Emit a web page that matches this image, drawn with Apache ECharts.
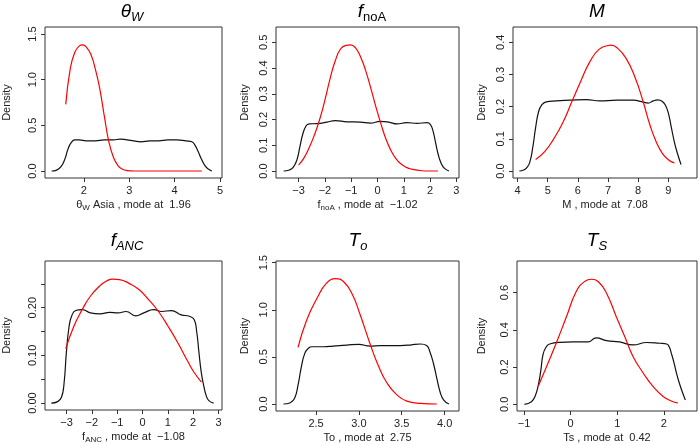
<!DOCTYPE html>
<html>
<head>
<meta charset="utf-8">
<script src="https://cdn.jsdelivr.net/npm/echarts@6/dist/echarts.min.js"></script>
<style>
  html, body { margin: 0; background: #fff; }
  #main { width: 700px; height: 445px; }
</style>
</head>
<body>
<div id="main"></div>
<script>
// theta_W
const thetaPriorX = [1.29, 1.40, 1.50, 1.58, 1.65, 1.72, 1.80, 1.90, 2.05, 2.25, 2.45, 2.65, 2.80, 2.95, 3.10, 3.25, 3.45, 3.65, 3.85, 4.05, 4.25, 4.38, 4.45, 4.52, 4.60, 4.68, 4.75, 4.82];
const thetaPriorY = [0.00, 0.01, 0.05, 0.13, 0.24, 0.31, 0.34, 0.34, 0.33, 0.33, 0.34, 0.34, 0.35, 0.34, 0.33, 0.32, 0.33, 0.33, 0.34, 0.34, 0.33, 0.32, 0.28, 0.21, 0.12, 0.05, 0.02, 0.00];
const thetaPostX = [1.60, 1.70, 1.80, 1.90, 1.97, 2.05, 2.15, 2.25, 2.35, 2.45, 2.55, 2.65, 2.75, 2.85, 2.95, 3.10, 3.50, 4.00, 4.60];
const thetaPostY = [0.73, 1.12, 1.30, 1.37, 1.38, 1.36, 1.28, 1.12, 0.90, 0.60, 0.32, 0.15, 0.06, 0.02, 0.005, 0.0, 0.0, 0.0, 0.0];

// f_noA
const fnoaPriorX = [-3.57, -3.35, -3.20, -3.06, -2.95, -2.85, -2.72, -2.60, -2.30, -1.92, -1.60, -1.16, -0.65, -0.27, 0.11, 0.43, 0.74, 1.12, 1.50, 1.89, 2.00, 2.10, 2.20, 2.30, 2.42, 2.55, 2.72];
const fnoaPriorY = [0.000, 0.004, 0.015, 0.045, 0.095, 0.140, 0.175, 0.183, 0.184, 0.190, 0.196, 0.191, 0.190, 0.186, 0.193, 0.190, 0.183, 0.188, 0.185, 0.188, 0.182, 0.160, 0.115, 0.068, 0.030, 0.010, 0.000];
const fnoaPostX = [-3.00, -2.80, -2.60, -2.40, -2.20, -2.00, -1.80, -1.60, -1.40, -1.20, -1.02, -0.85, -0.65, -0.45, -0.25, -0.05, 0.11, 0.30, 0.50, 0.70, 0.90, 1.10, 1.30, 1.60, 2.00, 2.30];
const fnoaPostY = [0.023, 0.050, 0.090, 0.140, 0.200, 0.275, 0.360, 0.430, 0.475, 0.488, 0.490, 0.480, 0.445, 0.390, 0.320, 0.245, 0.190, 0.130, 0.082, 0.048, 0.027, 0.014, 0.007, 0.002, 0.000, 0.000];

// M
const mPriorX = [4.06, 4.20, 4.30, 4.40, 4.50, 4.60, 4.70, 4.80, 4.95, 5.28, 5.72, 6.28, 6.72, 7.28, 7.83, 8.17, 8.33, 8.50, 8.65, 8.80, 8.90, 9.00, 9.10, 9.20, 9.30, 9.42];
const mPriorY = [0.000, 0.003, 0.010, 0.025, 0.070, 0.135, 0.185, 0.205, 0.215, 0.218, 0.220, 0.222, 0.218, 0.220, 0.220, 0.214, 0.211, 0.218, 0.221, 0.216, 0.205, 0.180, 0.135, 0.090, 0.055, 0.020];
const mPostX = [4.60, 4.90, 5.20, 5.50, 5.80, 6.10, 6.40, 6.70, 7.00, 7.10, 7.30, 7.60, 7.90, 8.15, 8.40, 8.60, 8.80, 9.00, 9.20];
const mPostY = [0.036, 0.060, 0.100, 0.150, 0.215, 0.280, 0.340, 0.378, 0.390, 0.391, 0.383, 0.350, 0.290, 0.220, 0.140, 0.090, 0.055, 0.035, 0.025];

// f_ANC
const fancPriorX = [-3.60, -3.35, -3.20, -3.10, -3.00, -2.90, -2.80, -2.64, -2.38, -2.06, -1.68, -1.29, -0.97, -0.65, -0.27, 0.05, 0.44, 0.76, 1.14, 1.53, 1.85, 2.04, 2.14, 2.23, 2.32, 2.42, 2.52, 2.62, 2.81];
const fancPriorY = [0.000, 0.003, 0.012, 0.040, 0.110, 0.160, 0.182, 0.194, 0.196, 0.189, 0.187, 0.190, 0.189, 0.192, 0.183, 0.189, 0.196, 0.192, 0.194, 0.185, 0.182, 0.175, 0.150, 0.106, 0.065, 0.036, 0.015, 0.005, 0.000];
const fancPostX = [-3.03, -2.71, -2.38, -2.06, -1.68, -1.42, -1.17, -0.91, -0.53, -0.14, 0.24, 0.63, 1.01, 1.40, 1.78, 2.04, 2.33];
const fancPostY = [0.114, 0.161, 0.196, 0.224, 0.246, 0.256, 0.260, 0.259, 0.251, 0.238, 0.217, 0.192, 0.161, 0.126, 0.088, 0.064, 0.044];

// T_o
const toPriorX = [2.12, 2.20, 2.25, 2.29, 2.33, 2.37, 2.41, 2.45, 2.59, 2.70, 2.86, 3.00, 3.13, 3.25, 3.36, 3.48, 3.60, 3.72, 3.79, 3.83, 3.87, 3.91, 3.95, 3.99, 4.05];
const toPriorY = [0.00, 0.014, 0.06, 0.20, 0.40, 0.54, 0.59, 0.608, 0.608, 0.615, 0.626, 0.633, 0.615, 0.62, 0.619, 0.62, 0.626, 0.637, 0.62, 0.55, 0.43, 0.27, 0.12, 0.042, 0.0];
const toPostX = [2.29, 2.39, 2.51, 2.62, 2.73, 2.82, 2.92, 3.01, 3.13, 3.23, 3.33, 3.44, 3.56, 3.72, 3.91];
const toPostY = [0.60, 0.89, 1.12, 1.28, 1.33, 1.30, 1.17, 0.96, 0.64, 0.40, 0.22, 0.10, 0.03, 0.007, 0.0];

// T_s
const tsPriorX = [-0.99, -0.84, -0.76, -0.70, -0.64, -0.59, -0.52, -0.45, -0.23, 0.05, 0.37, 0.55, 0.77, 1.05, 1.34, 1.63, 1.91, 2.06, 2.12, 2.16, 2.22, 2.27, 2.33, 2.38, 2.46];
const tsPriorY = [0.000, 0.014, 0.045, 0.095, 0.180, 0.270, 0.310, 0.324, 0.333, 0.335, 0.335, 0.357, 0.342, 0.335, 0.319, 0.332, 0.328, 0.324, 0.305, 0.274, 0.220, 0.167, 0.115, 0.077, 0.023];
const tsPostX = [-0.69, -0.52, -0.31, -0.09, 0.12, 0.30, 0.45, 0.59, 0.77, 0.98, 1.16, 1.34, 1.56, 1.77, 1.99, 2.20, 2.30];
const tsPostY = [0.10, 0.20, 0.328, 0.47, 0.606, 0.66, 0.672, 0.66, 0.597, 0.47, 0.364, 0.256, 0.167, 0.095, 0.041, 0.014, 0.008];

// tick values
const thetaXTicks = [2, 3, 4, 5];
const thetaYTicks = [0, 0.5, 1, 1.5];
const fnoaXTicks = [-3, -2, -1, 0, 1, 2, 3];
const fnoaYTicks = [0, 0.1, 0.2, 0.3, 0.4, 0.5];
const mXTicks = [4, 5, 6, 7, 8, 9];
const mYTicks = [0, 0.1, 0.2, 0.3, 0.4];
const fancXTicks = [-3, -2, -1, 0, 1, 2, 3];
const fancYTicks = [0, 0.05, 0.1, 0.15, 0.2, 0.25];
const fancYLabels = [0, 0.1, 0.2];
const toXTicks = [2.5, 3.0, 3.5, 4.0];
const toYTicks = [0, 0.5, 1, 1.5];
const tsXTicks = [-1, 0, 1, 2];
const tsYTicks = [0, 0.2, 0.4, 0.6];

const FONT = "'Liberation Sans', Arial, sans-serif";
const zip = (xs, ys) => xs.map((x, i) => [x, ys[i]]);
const minus = (s) => s.replace('-', '\u2212');

const panels = [
  {
    title: '{m|θ}{s|W}', titleX: 132, titleTop: 0,
    name: '{n|θ}{ns|W}{n| Asia , mode at  1.96}',
    grid: { left: 40, top: 27, width: 182, height: 151 },
    xMin: 1.143, xMax: 5.043, yMin: -0.0766, yMax: 1.5766,
    xTicks: thetaXTicks, yTicks: thetaYTicks, yLabels: thetaYTicks, xDec: 0, yDec: 1, yNameGap: 33,
    prior: zip(thetaPriorX, thetaPriorY), post: zip(thetaPostX, thetaPostY)
  },
  {
    title: '{m|f}{su|noA}', titleX: 372, titleTop: 0,
    name: '{n|f}{ns|noA}{n| , mode at  \u22121.02}',
    grid: { left: 276, top: 27, width: 183, height: 151 },
    xMin: -3.86, xMax: 3.10, yMin: -0.0272, yMax: 0.5594,
    xTicks: fnoaXTicks, yTicks: fnoaYTicks, yLabels: fnoaYTicks, xDec: 0, yDec: 1, yNameGap: 26,
    prior: zip(fnoaPriorX, fnoaPriorY), post: zip(fnoaPostX, fnoaPostY)
  },
  {
    title: '{m|M}', titleX: 597, titleTop: 0,
    name: '{n|M , mode at  7.08}',
    grid: { left: 513, top: 27, width: 184, height: 151 },
    xMin: 3.85, xMax: 9.95, yMin: -0.0218, yMax: 0.4476,
    xTicks: mXTicks, yTicks: mYTicks, yLabels: mYTicks, xDec: 0, yDec: 1, yNameGap: 26,
    prior: zip(mPriorX, mPriorY), post: zip(mPostX, mPostY)
  },
  {
    title: '{m|f}{s|ANC}', titleX: 127, titleTop: 229,
    name: '{n|f}{ns|ANC}{n| , mode at  \u22121.08}',
    grid: { left: 40, top: 261, width: 182, height: 150 },
    xMin: -3.85, xMax: 3.14, yMin: -0.0146, yMax: 0.2979,
    xTicks: fancXTicks, yTicks: fancYTicks, yLabels: fancYLabels, xDec: 0, yDec: 2, yNameGap: 33,
    prior: zip(fancPriorX, fancPriorY), post: zip(fancPostX, fancPostY)
  },
  {
    title: '{m|T}{s|o}', titleX: 358, titleTop: 229,
    name: '{n|To , mode at  2.75}',
    grid: { left: 276, top: 261, width: 183, height: 150 },
    xMin: 2.033, xMax: 4.168, yMin: -0.0743, yMax: 1.518,
    xTicks: toXTicks, yTicks: toYTicks, yLabels: toYTicks, xDec: 1, yDec: 1, yNameGap: 26,
    prior: zip(toPriorX, toPriorY), post: zip(toPostX, toPostY)
  },
  {
    title: '{m|T}{s|S}', titleX: 597, titleTop: 229,
    name: '{n|Ts , mode at  0.42}',
    grid: { left: 517, top: 261, width: 180, height: 150 },
    xMin: -1.15, xMax: 2.71, yMin: -0.036, yMax: 0.770,
    xTicks: tsXTicks, yTicks: tsYTicks, yLabels: tsYTicks, xDec: 0, yDec: 1, yNameGap: 30,
    prior: zip(tsPriorX, tsPriorY), post: zip(tsPostX, tsPostY)
  }
];

const titleRich = {
  m: { fontFamily: FONT, fontSize: 19, fontStyle: 'italic', fontWeight: 'normal', color: '#000', lineHeight: 24 },
  s: { fontFamily: FONT, fontSize: 13, fontStyle: 'italic', fontWeight: 'normal', color: '#000', lineHeight: 13, padding: [11, 0, 0, 0] },
  su: { fontFamily: FONT, fontSize: 13, fontWeight: 'normal', color: '#000', lineHeight: 13, padding: [11, 0, 0, 0] }
};
const nameRich = {
  n: { fontFamily: FONT, fontSize: 11, color: '#222', lineHeight: 14 },
  ns: { fontFamily: FONT, fontSize: 8, color: '#222', lineHeight: 8, padding: [6, 0, 0, 0] }
};

const option = {
  animation: false,
  backgroundColor: '#fff',
  title: panels.map((p) => ({
    text: p.title,
    left: p.titleX,
    top: p.titleTop,
    textAlign: 'center',
    padding: 0,
    textStyle: { fontWeight: 'normal', rich: titleRich }
  })),
  grid: panels.map((p) => ({
    left: p.grid.left, top: p.grid.top, width: p.grid.width, height: p.grid.height,
    show: true, borderColor: '#333', borderWidth: 1, backgroundColor: 'transparent',
    containLabel: false
  })),
  xAxis: panels.map((p, i) => ({
    type: 'value', gridIndex: i, min: p.xMin, max: p.xMax, position: 'bottom',
    axisLine: { show: false, onZero: false },
    splitLine: { show: false },
    axisTick: { show: true, length: 4, lineStyle: { color: '#333' }, customValues: p.xTicks },
    axisLabel: {
      customValues: p.xTicks, margin: 7, fontSize: 11, fontFamily: FONT, color: '#222',
      formatter: (v) => minus(v.toFixed(p.xDec))
    },
    name: p.name, nameLocation: 'middle', nameGap: 20,
    nameTextStyle: { rich: nameRich }
  })),
  yAxis: panels.map((p, i) => ({
    type: 'value', gridIndex: i, min: p.yMin, max: p.yMax, position: 'left',
    axisLine: { show: false, onZero: false },
    splitLine: { show: false },
    axisTick: { show: true, length: 4, lineStyle: { color: '#333' }, customValues: p.yTicks },
    axisLabel: {
      customValues: p.yLabels, margin: 7, rotate: 90, fontSize: 11, fontFamily: FONT, color: '#222',
      formatter: (v) => v.toFixed(p.yDec)
    },
    name: 'Density', nameLocation: 'middle', nameGap: p.yNameGap, nameRotate: 90,
    nameTextStyle: { fontFamily: FONT, fontSize: 11, color: '#222' }
  })),
  series: panels.flatMap((p, i) => [
    {
      type: 'line', xAxisIndex: i, yAxisIndex: i, data: p.prior,
      smooth: true, showSymbol: false, silent: true,
      lineStyle: { color: '#111', width: 1.2 }
    },
    {
      type: 'line', xAxisIndex: i, yAxisIndex: i, data: p.post,
      smooth: true, showSymbol: false, silent: true,
      lineStyle: { color: '#ff0000', width: 1.2 }
    }
  ])
};

const chart = echarts.init(document.getElementById('main'));
chart.setOption(option);
</script>
</body>
</html>
